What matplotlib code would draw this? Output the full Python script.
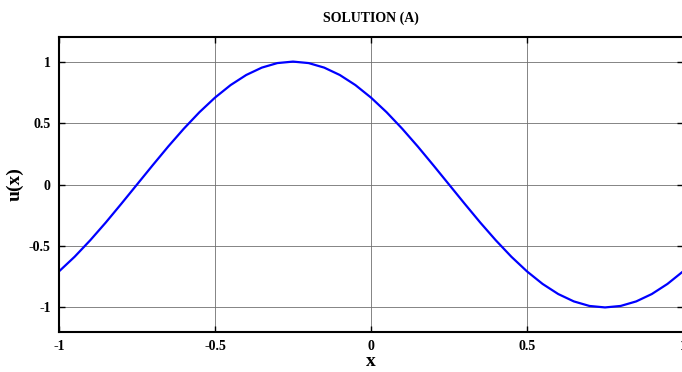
import matplotlib
matplotlib.use('Agg')
import matplotlib.pyplot as plt
import numpy as np

# sampled from the curve, step 0.05
x_vals = [-1.00, -0.95, -0.90, -0.85, -0.80, -0.75, -0.70, -0.65, -0.60, -0.55,
          -0.50, -0.45, -0.40, -0.35, -0.30, -0.25, -0.20, -0.15, -0.10, -0.05,
          0.00, 0.05, 0.10, 0.15, 0.20, 0.25, 0.30, 0.35, 0.40, 0.45,
          0.50, 0.55, 0.60, 0.65, 0.70, 0.75, 0.80, 0.85, 0.90, 0.95, 1.00]
u_vals = [-0.707, -0.588, -0.454, -0.309, -0.156, 0.000, 0.156, 0.309, 0.454, 0.588,
          0.707, 0.809, 0.891, 0.951, 0.988, 1.000, 0.988, 0.951, 0.891, 0.809,
          0.707, 0.588, 0.454, 0.309, 0.156, 0.000, -0.156, -0.309, -0.454, -0.588,
          -0.707, -0.809, -0.891, -0.951, -0.988, -1.000, -0.988, -0.951, -0.891, -0.809, -0.707]

x_ticks = [-1, -0.5, 0, 0.5, 1]
x_ticklabels = ['-1', '-0.5', '0', '0.5', '1']
y_ticks = [-1, -0.5, 0, 0.5, 1]
y_ticklabels = ['-1', '-0.5', '0', '0.5', '1']

plt.rcParams['font.family'] = ['Liberation Serif', 'DejaVu Serif']
plt.rcParams['font.weight'] = 'bold'

fig = plt.figure(figsize=(6.82, 3.72), dpi=100)
ax = fig.add_axes([0.0865, 0.1075, 0.915, 0.793])

ax.plot(x_vals, u_vals, color='#0000ff', linewidth=1.6)

ax.set_xlim(-1, 1)
ax.set_ylim(-1.2, 1.2)
ax.set_xticks(x_ticks)
ax.set_xticklabels(x_ticklabels, fontsize=10, fontweight='bold')
ax.set_yticks(y_ticks)
ax.set_yticklabels(y_ticklabels, fontsize=10, fontweight='bold')
ax.tick_params(direction='in', length=4, width=1, top=True, right=True, pad=6)

ax.grid(True, color='#707070', linewidth=0.6)
for s in ax.spines.values():
    s.set_linewidth(1.5)

ax.set_title('SOLUTION (A)', fontsize=10, fontweight='bold', pad=11)
ax.set_xlabel('x', fontsize=14, fontweight='bold', labelpad=0)
ax.set_ylabel('u(x)', fontsize=14, fontweight='bold', labelpad=4)

fig.savefig('out.png', dpi=100)
